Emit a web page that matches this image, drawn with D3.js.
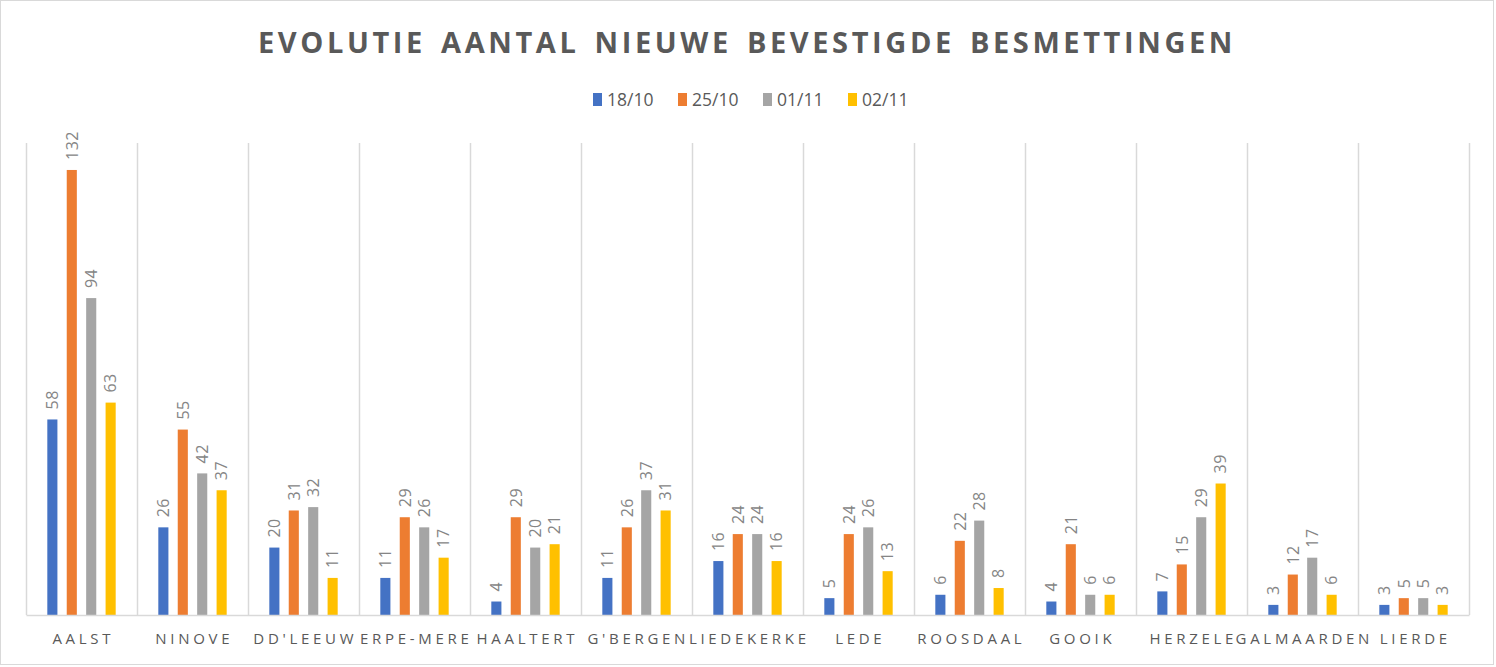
<!DOCTYPE html>
<html>
<head>
<meta charset="utf-8">
<script src="https://cdn.jsdelivr.net/npm/d3@7"></script>
<style>
  body { margin: 0; background: #fff; }
  text { font-family: "Open Sans", sans-serif; }
</style>
</head>
<body>
<svg id="chart" width="1496" height="667"></svg>
<script>
var categories = ["AALST", "NINOVE", "DD'LEEUW", "ERPE-MERE", "HAALTERT", "G'BERGEN",
  "LIEDEKERKE", "LEDE", "ROOSDAAL", "GOOIK", "HERZELE", "GALMAARDEN", "LIERDE"];
var series = ["18/10", "25/10", "01/11", "02/11"];
var colors = ["#4472C4", "#ED7D31", "#A5A5A5", "#FFC000"];

var v1810 = [58, 26, 20, 11, 4, 11, 16, 5, 6, 4, 7, 3, 3];
var v2510 = [132, 55, 31, 29, 29, 26, 24, 24, 22, 21, 15, 12, 5];
var v0111 = [94, 42, 32, 26, 20, 37, 24, 26, 28, 6, 29, 17, 5];
var v0211 = [63, 37, 11, 17, 21, 31, 16, 13, 8, 6, 39, 6, 3];
var values = [v1810, v2510, v0111, v0211];

var title = "EVOLUTIE AANTAL NIEUWE BEVESTIGDE BESMETTINGEN";

var svg = d3.select("#chart");
var W = 1496, H = 667;
var margin = {top: 143, right: 27, bottom: 52, left: 26};
var plotW = W - margin.left - margin.right,
    plotH = H - margin.top - margin.bottom;

// chart frame
svg.append("rect")
  .attr("x", 0.5).attr("y", 0.5)
  .attr("width", 1493).attr("height", 664)
  .attr("fill", "#fff")
  .attr("stroke", "#d9d9d9");

svg.append("text")
  .attr("x", 747).attr("y", 53)
  .attr("text-anchor", "middle")
  .attr("fill", "#595959")
  .style("font-size", "29px")
  .style("font-weight", "700")
  .style("letter-spacing", "3.6px")
  .style("word-spacing", "4px")
  .text(title);

// legend
var legend = svg.append("g");
series.forEach(function(s, i) {
  var lx = 593 + i * 85;
  legend.append("rect")
    .attr("x", lx).attr("y", 93)
    .attr("width", 9).attr("height", 13)
    .attr("fill", colors[i]);
  legend.append("text")
    .attr("x", lx + 14).attr("y", 106)
    .attr("fill", "#595959")
    .style("font-size", "17.5px")
    .text(s);
});

var g = svg.append("g").attr("transform", "translate(" + margin.left + "," + margin.top + ")");

var x0 = d3.scaleBand().domain(categories).range([0, plotW]).padding(0);
var bw = x0.bandwidth();
var x1 = d3.scaleBand().domain(series)
  .range([bw * 0.15, bw * 0.85])
  .paddingInner(0.48).paddingOuter(0.24);
var y = d3.scaleLinear().domain([0, 140]).range([plotH, 0]);

// vertical grid lines at category boundaries
var bounds = categories.map(function(c) { return x0(c); }).concat([plotW]);
g.selectAll(".grid")
  .data(bounds)
  .enter().append("line")
  .attr("class", "grid")
  .attr("x1", function(d) { return Math.round(d) + 0.5; })
  .attr("x2", function(d) { return Math.round(d) + 0.5; })
  .attr("y1", 0).attr("y2", plotH)
  .attr("stroke", "#d9d9d9")
  .attr("stroke-width", 1.5);

var groups = g.selectAll(".cat")
  .data(categories)
  .enter().append("g")
  .attr("class", "cat")
  .attr("transform", function(d) { return "translate(" + x0(d) + ",0)"; });

function cells(d, ci) {
  return series.map(function(s, si) { return {s: s, si: si, v: values[si][ci]}; });
}

groups.selectAll("rect")
  .data(cells)
  .enter().append("rect")
  .attr("x", function(d) { return x1(d.s); })
  .attr("y", function(d) { return y(d.v); })
  .attr("width", x1.bandwidth())
  .attr("height", function(d) { return plotH - y(d.v); })
  .attr("fill", function(d) { return colors[d.si]; });

groups.selectAll(".lbl")
  .data(cells)
  .enter().append("text")
  .attr("class", "lbl")
  .attr("transform", function(d) {
    return "translate(" + (x1(d.s) + x1.bandwidth() / 2) + "," + (y(d.v) - 10) + ") rotate(-90)";
  })
  .attr("dy", "0.36em")
  .attr("fill", "#858585")
  .style("font-size", "16px")
  .style("letter-spacing", "0.5px")
  .text(function(d) { return d.v; });

// x axis
var xAxis = g.append("g")
  .attr("transform", "translate(0," + plotH + ")")
  .call(d3.axisBottom(x0).tickSize(0).tickPadding(18));
xAxis.select(".domain").attr("stroke", "#d9d9d9").attr("stroke-width", 1.5);
xAxis.selectAll("text")
  .attr("fill", "#595959")
  .attr("dx", "1.8px")
  .style("font-size", "15px")
  .style("letter-spacing", "3.7px")
  .style("font-family", "'Open Sans', sans-serif");
</script>
</body>
</html>
